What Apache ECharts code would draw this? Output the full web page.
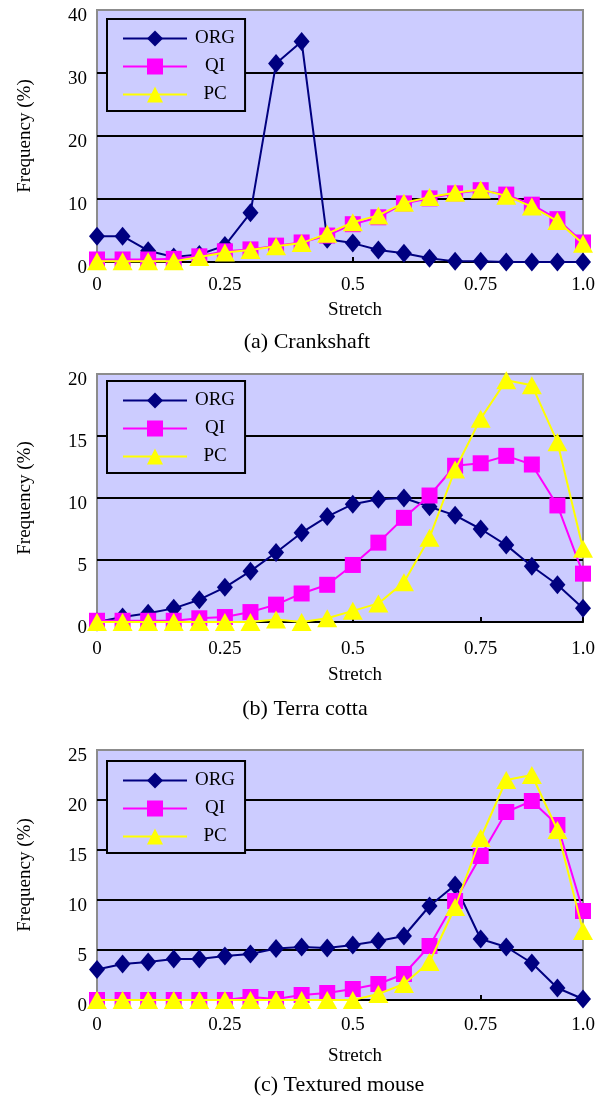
<!DOCTYPE html>
<html>
<head>
<meta charset="utf-8">
<script src="https://cdn.jsdelivr.net/npm/echarts@6/dist/echarts.min.js"></script>
<style>
  html, body { margin: 0; padding: 0; background: #fff; }
  #chart { width: 603px; height: 1097px; }
</style>
</head>
<body>
<div id="chart"></div>
<script>
// 20 stretch bins along x, labelled only at a few of them
const bins = ['b1', 'b2', 'b3', 'b4', 'b5', 'b6', 'b7', 'b8', 'b9', 'b10',
  'b11', 'b12', 'b13', 'b14', 'b15', 'b16', 'b17', 'b18', 'b19', 'b20']
const tickIndex = [0, 5, 10, 15, 19]
const tickText = ['0', '0.25', '0.5', '0.75', '1.0']

const seriesNames = ['ORG', 'QI', 'PC']
const captions = ['(a) Crankshaft', '(b) Terra cotta', '(c) Textured mouse']

// (a) Crankshaft
const orgA = [4.1, 4.1, 1.8, 0.8, 1.2, 2.6, 7.8, 31.5, 35.0, 3.6, 3.0, 1.9, 1.4, 0.6, 0.1, 0.1, 0, 0, 0, 0]
const qiA = [0.4, 0.4, 0.4, 0.5, 0.9, 1.7, 2.0, 2.6, 3.1, 4.2, 6.0, 7.1, 9.3, 10.1, 10.9, 11.4, 10.7, 9.1, 6.8, 3.1]
const pcA = [0.1, 0.1, 0.1, 0.1, 0.8, 1.5, 1.9, 2.5, 3.0, 4.5, 6.3, 7.4, 9.4, 10.3, 11.0, 11.5, 10.5, 8.8, 6.5, 2.9]

// (b) Terra cotta
const orgB = [0, 0.4, 0.7, 1.1, 1.8, 2.8, 4.1, 5.6, 7.2, 8.5, 9.5, 9.9, 10.0, 9.3, 8.6, 7.5, 6.2, 4.5, 3.0, 1.1]
const qiB = [0.1, 0.1, 0.1, 0.1, 0.3, 0.4, 0.8, 1.4, 2.3, 3.0, 4.6, 6.4, 8.4, 10.2, 12.6, 12.8, 13.4, 12.7, 9.4, 3.9]
const pcB = [0, 0, 0, 0, 0, 0, 0, 0.2, 0, 0.3, 0.9, 1.5, 3.2, 6.8, 12.3, 16.4, 19.5, 19.1, 14.5, 5.9]

// (c) Textured mouse
const orgC = [3.05, 3.6, 3.8, 4.1, 4.1, 4.4, 4.6, 5.15, 5.3, 5.2, 5.5, 5.9, 6.4, 9.4, 11.5, 6.1, 5.3, 3.7, 1.2, 0.1]
const qiC = [0, 0, 0, 0, 0, 0, 0.3, 0.1, 0.5, 0.7, 1.1, 1.6, 2.6, 5.4, 9.9, 14.4, 18.8, 19.9, 17.5, 8.9]
const pcC = [0, 0, 0, 0, 0, 0, 0, 0, 0, 0, 0, 0.6, 1.6, 3.8, 9.3, 16.2, 22.0, 22.5, 17.0, 6.9]

const yMax = [40, 20, 25]
const yStep = [10, 5, 5]

const panels = [
  [orgA, qiA, pcA],
  [orgB, qiB, pcB],
  [orgC, qiC, pcC]
]

const FONT = 'Liberation Serif'
const colors = ['#000080', '#ff00ff', '#ffff00']
const symbols = ['diamond', 'rect', 'triangle']
const symbolSizes = [[16, 19], 16, [20, 18]]

// 版面位置 (px)
const gridTop = [10, 374, 750]
const gridBottom = [835, 475, 97]
const labelMargin = [14, 18, 16]
const stretchGap = [39, 44, 47]
const legendOffset = [9, 7, 11]
const captionTop = [331, 698, 1074]
const captionX = [307, 305, 339]

const chart = echarts.init(document.getElementById('chart'), null, { renderer: 'canvas' })

const grid = []
const xAxis = []
const yAxis = []
const series = []
const legend = []
const title = []

const showTick = (index) => tickIndex.indexOf(index) >= 0

for (let p = 0; p < 3; p++) {
  grid.push({
    left: 97,
    right: 20,
    top: gridTop[p],
    bottom: gridBottom[p],
    show: true,
    backgroundColor: '#ccccff',
    borderColor: '#8c8c8c',
    borderWidth: 2
  })

  xAxis.push({
    type: 'category',
    gridIndex: p,
    data: bins,
    boundaryGap: false,
    name: 'Stretch',
    nameLocation: 'middle',
    nameGap: stretchGap[p],
    nameTextStyle: { fontFamily: FONT, fontSize: 19, color: '#000', padding: [0, 0, 0, 30] },
    axisLine: { lineStyle: { color: '#000', width: 2 } },
    axisTick: { show: true, inside: true, length: 5, interval: showTick, lineStyle: { color: '#000', width: 2 } },
    axisLabel: {
      interval: showTick,
      formatter: (value, index) => tickText[tickIndex.indexOf(index)],
      fontFamily: FONT,
      fontSize: 19,
      color: '#000',
      margin: labelMargin[p]
    },
    splitLine: { show: false }
  })

  // 顶部一条线为灰色边框，其余为黑色网格线
  const lineColors = []
  for (let v = 0; v <= yMax[p]; v += yStep[p]) {
    lineColors.push(v === yMax[p] ? '#8c8c8c' : '#000')
  }

  yAxis.push({
    type: 'value',
    gridIndex: p,
    min: 0,
    max: yMax[p],
    interval: yStep[p],
    name: 'Frequency (%)',
    nameLocation: 'middle',
    nameGap: 62,
    nameTextStyle: { fontFamily: FONT, fontSize: 19, color: '#000' },
    axisLine: { show: false },
    axisTick: { show: false },
    axisLabel: { fontFamily: FONT, fontSize: 19, color: '#000', margin: 10, verticalAlign: 'top', lineHeight: 13 },
    splitLine: { show: true, lineStyle: { color: lineColors, width: 2 } }
  })

  for (let s = 0; s < 3; s++) {
    series.push({
      name: seriesNames[s],
      type: 'line',
      xAxisIndex: p,
      yAxisIndex: p,
      data: panels[p][s],
      symbol: symbols[s],
      symbolSize: symbolSizes[s],
      showAllSymbol: true,
      lineStyle: { color: colors[s], width: 2 },
      itemStyle: { color: colors[s] },
      animation: false,
      z: 2 + s
    })
  }

  legend.push({
    orient: 'vertical',
    left: 107,
    top: gridTop[p] + legendOffset[p],
    data: seriesNames,
    backgroundColor: '#ccccff',
    borderColor: '#000',
    borderWidth: 2,
    borderRadius: 0,
    padding: [10, 10, 7, 15],
    itemWidth: 64,
    itemHeight: 20,
    itemGap: 9,
    selectedMode: false,
    formatter: (name) => `{c|${name}}`,
    textStyle: {
      fontFamily: FONT,
      fontSize: 19,
      color: '#000',
      rich: { c: { width: 46, align: 'center', fontFamily: FONT, fontSize: 19, color: '#000' } }
    }
  })

  title.push({
    text: captions[p],
    left: captionX[p],
    top: captionTop[p],
    padding: 0,
    textAlign: 'center',
    textStyle: { fontFamily: FONT, fontSize: 22, fontWeight: 'normal', color: '#000' }
  })
}

chart.setOption({
  animation: false,
  title,
  legend,
  grid,
  xAxis,
  yAxis,
  series
})
</script>
</body>
</html>
